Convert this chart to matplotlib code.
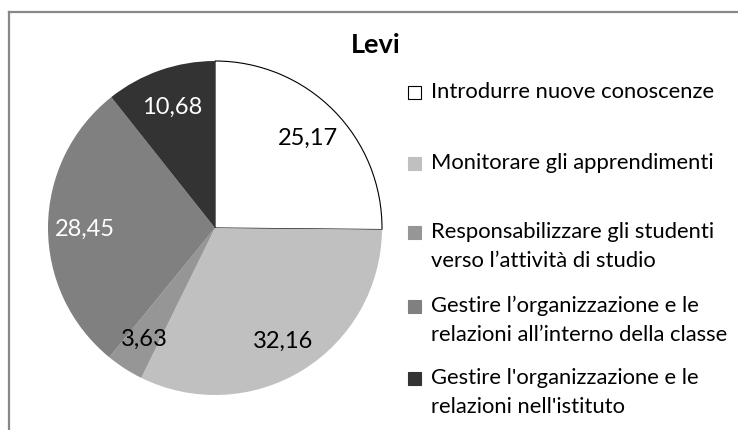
from matplotlib import pyplot as plt
from matplotlib.lines import Line2D
from matplotlib.patches import Rectangle

TITLE = "Levi"
CATEGORIES = [
    "Introdurre nuove conoscenze",
    "Monitorare gli apprendimenti",
    "Responsabilizzare gli studenti\nverso l\u2019attivit\u00e0 di studio",
    "Gestire l\u2019organizzazione e le\nrelazioni all\u2019interno della classe",
    "Gestire l'organizzazione e le\nrelazioni nell'istituto",
]
VALUES = [25.17, 32.16, 3.63, 28.45, 10.68]
COLORS = ["#ffffff", "#c0c0c0", "#969696", "#808080", "#333333"]
LABEL_COLORS = ["black", "black", "black", "white", "white"]

plt.rcParams['font.family'] = ['Lato', 'DejaVu Sans']

W, H = 738, 430
fig = plt.figure(figsize=(W / 100, H / 100), dpi=100)

# frame (only top and left visible)
fig.add_artist(Line2D([8.5 / W, 8.5 / W], [0, 1 - 11.5 / H], color="#888888", lw=1.6))
fig.add_artist(Line2D([8.5 / W, 1], [1 - 11.5 / H, 1 - 11.5 / H], color="#888888", lw=1.6))

# pie axes: center (215, 228) px, radius ~167 px
r = 167
ax = fig.add_axes([(215 - r) / W, (H - 228 - r) / H, 2 * r / W, 2 * r / H])
texts = [f"{v:.2f}".replace(".", ",") for v in VALUES]
wedges, labels = ax.pie(VALUES, colors=COLORS, startangle=90, counterclock=False,
                        labels=texts, labeldistance=0.78,
                        wedgeprops=dict(linewidth=0))
for t, c in zip(labels, LABEL_COLORS):
    t.set_ha("center")
    t.set_va("center_baseline")
    t.set_color(c)
    t.set_fontsize(17)
# thin outline on the white slice
wedges[0].set_edgecolor("black")
wedges[0].set_linewidth(0.8)
ax.set_xlim(-1, 1)
ax.set_ylim(-1, 1)
ax.set_aspect("equal")
ax.axis("off")

fig.text(376 / W, 1 - 45 / H, TITLE, ha="center", va="center",
         fontsize=19.5, fontweight="bold")

# legend, drawn by hand to follow the reference spacing
legend_y = [92, 163, 232, 306, 378]
line_h = 29
for y, name, col in zip(legend_y, CATEGORIES, COLORS):
    s = 13
    fig.add_artist(Rectangle((408 / W, 1 - (y + s / 2) / H), s / W, s / H,
                             facecolor=col, edgecolor="black" if col == "#ffffff" else col,
                             lw=0.8, transform=fig.transFigure))
    for i, line in enumerate(name.split("\n")):
        fig.text(431 / W, 1 - (y + i * line_h) / H, line, ha="left", va="center",
                 fontsize=15.8)

plt.savefig("out.png", dpi=100)
